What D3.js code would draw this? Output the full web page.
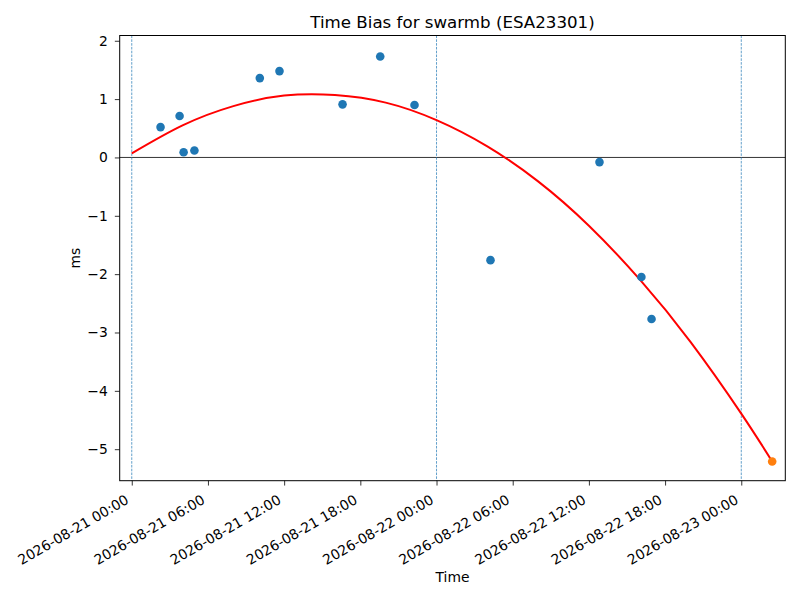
<!DOCTYPE html>
<html>
<head>
<meta charset="utf-8">
<script src="https://cdn.jsdelivr.net/npm/d3@7"></script>
<style>
  body { margin: 0; background: #fff; }
  svg { font-family: "DejaVu Sans", sans-serif; }
</style>
</head>
<body>
<div id="chart"></div>
<script>
// measured samples
const sampleTimes = [
  "2026-08-21T02:16Z", "2026-08-21T03:46Z", "2026-08-21T04:05Z", "2026-08-21T04:56Z",
  "2026-08-21T10:05Z", "2026-08-21T11:38Z", "2026-08-21T16:36Z", "2026-08-21T19:34Z",
  "2026-08-21T22:16Z", "2026-08-22T04:15Z", "2026-08-22T12:50Z", "2026-08-22T16:08Z",
  "2026-08-22T16:56Z"
];
const sampleBias = [0.52, 0.71, 0.09, 0.12, 1.36, 1.48, 0.91, 1.73, 0.90, -1.76, -0.08, -2.05, -2.77];

// predicted point at the end
const predTime = "2026-08-23T02:26Z";
const predBias = -5.21;

// fitted curve
const fitTimes = [
  "2026-08-21T00:00Z", "2026-08-21T04:00Z", "2026-08-21T08:00Z", "2026-08-21T12:00Z",
  "2026-08-21T16:00Z", "2026-08-21T20:00Z", "2026-08-22T00:00Z", "2026-08-22T04:00Z",
  "2026-08-22T08:00Z", "2026-08-22T12:00Z", "2026-08-22T16:00Z", "2026-08-22T20:00Z",
  "2026-08-23T00:00Z", "2026-08-23T02:26Z"
];
const fitBias = [0.07, 0.55, 0.88, 1.06, 1.07, 0.94, 0.64, 0.19, -0.41, -1.17, -2.09, -3.16, -4.39, -5.21];

// day boundaries
const dayLines = ["2026-08-21T00:00Z", "2026-08-22T00:00Z", "2026-08-23T00:00Z"];

const yTicks = [-5, -4, -3, -2, -1, 0, 1, 2];

const width = 800;
const height = 600;
const margin = { top: 35.5, right: 14.7, bottom: 119.3, left: 119.7 };
const fontSize = "13.89px";

const svg = d3.select("#chart")
    .append("svg")
    .attr("width", width)
    .attr("height", height);

const x = d3.scaleUtc()
    .domain([new Date("2026-08-20T23:03Z"), new Date("2026-08-23T03:28Z")])
    .range([margin.left, width - margin.right]);

const y = d3.scaleLinear()
    .domain([-5.54, 2.09])
    .range([height - margin.bottom, margin.top]);

const plot = svg.append("g");

// zero line
plot.append("line")
    .attr("x1", margin.left)
    .attr("x2", width - margin.right)
    .attr("y1", y(0))
    .attr("y2", y(0))
    .attr("stroke", "#000")
    .attr("stroke-width", 0.8);

// day lines
plot.selectAll(".day-line")
    .data(dayLines)
    .enter()
    .append("line")
    .attr("class", "day-line")
    .attr("x1", d => x(new Date(d)))
    .attr("x2", d => x(new Date(d)))
    .attr("y1", margin.top)
    .attr("y2", height - margin.bottom)
    .attr("stroke", "#1f77b4")
    .attr("stroke-width", 0.7)
    .attr("stroke-dasharray", "2.6,1.2");

// fit curve
const fitData = fitTimes.map((t, i) => ({ t: new Date(t), v: fitBias[i] }));
const line = d3.line()
    .x(d => x(d.t))
    .y(d => y(d.v))
    .curve(d3.curveNatural);

plot.append("path")
    .datum(fitData)
    .attr("d", line)
    .attr("fill", "none")
    .attr("stroke", "red")
    .attr("stroke-width", 2);

// samples
const samples = sampleTimes.map((t, i) => ({ t: new Date(t), v: sampleBias[i] }));
plot.selectAll(".sample")
    .data(samples)
    .enter()
    .append("circle")
    .attr("class", "sample")
    .attr("cx", d => x(d.t))
    .attr("cy", d => y(d.v))
    .attr("r", 4.3)
    .attr("fill", "#1f77b4");

plot.append("circle")
    .attr("cx", x(new Date(predTime)))
    .attr("cy", y(predBias))
    .attr("r", 4.3)
    .attr("fill", "#ff7f0e");

// frame
svg.append("rect")
    .attr("x", margin.left)
    .attr("y", margin.top)
    .attr("width", width - margin.left - margin.right)
    .attr("height", height - margin.top - margin.bottom)
    .attr("fill", "none")
    .attr("stroke", "#000")
    .attr("stroke-width", 1);

// x axis
const xTicks = d3.utcHour.every(6).range(new Date("2026-08-21T00:00Z"), new Date("2026-08-23T01:00Z"));
const fmt = d3.utcFormat("%Y-%m-%d %H:%M");
const xAxis = svg.append("g")
    .attr("transform", `translate(0,${height - margin.bottom})`)
    .call(d3.axisBottom(x).tickValues(xTicks).tickSize(4.86).tickSizeOuter(0).tickFormat(""));
xAxis.select(".domain").remove();
xAxis.selectAll("line").attr("stroke-width", 0.8);

svg.append("g")
    .selectAll("text")
    .data(xTicks)
    .enter()
    .append("text")
    .attr("transform", d => `translate(${x(d) - 2},${height - margin.bottom + 22}) rotate(-30)`)
    .attr("text-anchor", "end")
    .attr("font-size", fontSize)
    .attr("fill", "#000")
    .text(d => fmt(d));

// y axis
const yAxis = svg.append("g")
    .attr("transform", `translate(${margin.left},0)`)
    .call(d3.axisLeft(y).tickValues(yTicks).tickSize(4.86).tickPadding(7)
        .tickFormat(d => d < 0 ? "\u2212" + Math.abs(d) : d));
yAxis.select(".domain").remove();
yAxis.selectAll("line").attr("stroke-width", 0.8);
yAxis.selectAll("text")
    .attr("font-size", fontSize)
    .attr("font-family", "DejaVu Sans")
    .attr("fill", "#000");

// labels
svg.append("text")
    .attr("x", (margin.left + width - margin.right) / 2)
    .attr("y", margin.top - 8)
    .attr("text-anchor", "middle")
    .attr("font-size", "16.67px")
    .text("Time Bias for swarmb (ESA23301)");

svg.append("text")
    .attr("x", (margin.left + width - margin.right) / 2)
    .attr("y", 582)
    .attr("text-anchor", "middle")
    .attr("font-size", fontSize)
    .text("Time");

svg.append("text")
    .attr("transform", `translate(80,${(margin.top + height - margin.bottom) / 2}) rotate(-90)`)
    .attr("text-anchor", "middle")
    .attr("font-size", fontSize)
    .text("ms");
</script>
</body>
</html>
